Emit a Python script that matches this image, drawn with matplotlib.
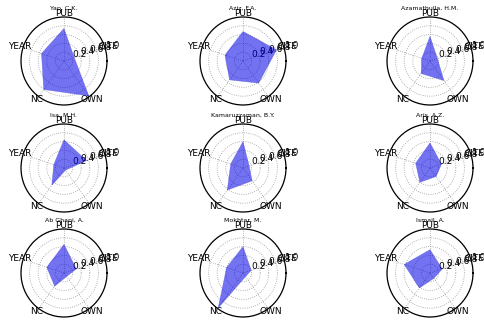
import numpy as np
import matplotlib
matplotlib.use('Agg')
import matplotlib.pyplot as plt

names = ['Yap, C.K.', 'Aziz, F.A.', 'Azamathulla, H.M.',
         'Isa, M.H.', 'Kamaruzzaman, B.Y.', 'Aris, A.Z.',
         'Ab Ghani, A.', 'Mokhtar, M.', 'Ismail, A.']
labels = ['PUB', 'CITE', 'OWN', 'NC', 'YEAR']
# values per author in order PUB, CITE, OWN, NC, YEAR
yap = [0.74, 0.25, 0.98, 0.80, 0.55]
aziz = [0.67, 0.82, 0.62, 0.53, 0.44]
azamathulla = [0.56, 0.18, 0.55, 0.35, 0.20]
isa = [0.64, 0.55, 0.06, 0.48, 0.25]
kamaruzzaman = [0.60, 0.15, 0.36, 0.62, 0.30]
aris = [0.57, 0.28, 0.24, 0.40, 0.35]
abghani = [0.65, 0.30, 0.10, 0.37, 0.42]
mokhtar = [0.60, 0.20, 0.10, 0.98, 0.40]
ismail = [0.53, 0.30, 0.15, 0.42, 0.63]
data = [yap, aziz, azamathulla, isa, kamaruzzaman, aris, abghani, mokhtar, ismail]

W, H = 485, 327
fig = plt.figure(figsize=(W / 100, H / 100), dpi=100)

col_c = [64, 243, 430]
row_c = [61, 168, 273]
hw, hh = 43, 44

angles = np.deg2rad([90, 18, 306, 234, 162])

for i, (name, vals) in enumerate(zip(names, data)):
    r, c = divmod(i, 3)
    ax = fig.add_axes([(col_c[c] - hw) / W, 1 - (row_c[r] + hh) / H,
                       2 * hw / W, 2 * hh / H], projection='polar')
    ax.set_aspect('auto')
    th = np.append(angles, angles[0])
    v = np.append(vals, vals[0])
    ax.fill(th, v, color='#0000e6', alpha=0.55, lw=0.4, edgecolor='#4040d8', zorder=2)
    ax.set_xticks(angles)
    ax.set_xticklabels(labels, fontsize=6.5)
    ax.set_xlim(0, 2 * np.pi)
    ax.set_ylim(0, 1.0)
    ax.set_yticks([0.2, 0.4, 0.6, 0.8, 1.0])
    ax.set_yticklabels(['0.2', '0.4', '0.6', '0.8', '1.0'], fontsize=6.5)
    ax.set_rlabel_position(15)
    ax.tick_params(axis='x', pad=-8)
    ax.grid(True, color='#999999', linestyle=':', linewidth=0.6)
    ax.spines['polar'].set_linewidth(0.9)
    ax.set_title(name, fontsize=4.5, y=1.0, pad=5)

plt.savefig('out.png', dpi=100)
